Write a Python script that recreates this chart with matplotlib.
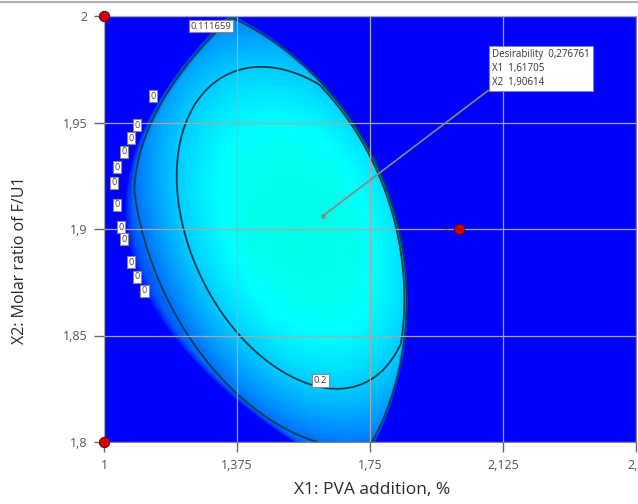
import numpy as np
import matplotlib
matplotlib.use('Agg')
import matplotlib.pyplot as plt
from matplotlib.colors import LinearSegmentedColormap

plt.rcParams['font.family'] = ['Open Sans', 'DejaVu Sans']

# axis ticks (comma decimal, as in the original)
x1_ticks = [1, 1.375, 1.75, 2.125, 2.5]
x1_labels = ['1', '1,375', '1,75', '2,125', '2,5']
x2_ticks = [1.8, 1.85, 1.9, 1.95, 2.0]
x2_labels = ['1,8', '1,85', '1,9', '1,95', '2']

# design points
pts_x1 = [1.0, 1.0, 2.0]
pts_x2 = [2.0, 1.8, 1.9]

# optimum found
opt_x1, opt_x2, opt_d = 1.61705, 1.90614, 0.276761

# desirability model
d_max, d_k, d_m = 0.2768, 0.0768, 1.25
dome_c1, dome_c2 = 1.5537, 1.901
dome_s1, dome_s2 = 0.4237, 0.0704
dome_a, dome_b_up, dome_b_dn, dome_c, dome_e = 1.64, 0.976, 0.95, 0.4, 0.36
left_b0, left_x2c, left_k2, left_k3, left_w = 1.0593, 1.9089, 37.0, -26.8, 0.0226
right_ell = (0.9737, 1.866, 0.8828, 0.15, 0.025)   # cx, cy, ax, ay, edge width

contour_levels = [0.111659, 0.2]
contour_label_txt = ['0.111659', '0.2']
contour_label_x1 = [1.302, 1.610]
contour_label_x2 = [1.9953, 1.8290]

# the "0" labels along the left edge
zero_x1 = [1.138, 1.093, 1.076, 1.0565, 1.0367, 1.028, 1.0367, 1.048, 1.0565, 1.076, 1.093, 1.113]
zero_x2 = [1.9624, 1.9488, 1.9427, 1.9362, 1.9291, 1.9216, 1.9113, 1.9009, 1.8953, 1.8845, 1.8775, 1.8709]


x1 = np.linspace(1, 2.5, 900)
x2 = np.linspace(1.8, 2.0, 700)
X1, X2 = np.meshgrid(x1, x2)

s = (X1 - dome_c1) / dome_s1
t = (X2 - dome_c2) / dome_s2
b = np.where(t > 0, dome_b_up, dome_b_dn)
Q = dome_a * s ** 2 + b * t ** 2 + 2 * dome_c * s * t + dome_e * np.clip(s, 0, None) ** 3
dome = np.clip(d_max - d_k * np.clip(Q, 0, None) ** d_m, 0, None)

dy = X2 - left_x2c
h = X1 - (left_b0 + left_k2 * dy ** 2 + left_k3 * dy ** 3)
L = np.sqrt(np.clip(h / left_w, 0, 1))

cx, cy, ax_, ay, w = right_ell
g2 = 1 - ((X1 - cx) / ax_) ** 2 - ((X2 - cy) / ay) ** 2
R = np.sqrt(np.clip(g2 / w, 0, 1))
D = dome * L * R

cmap = LinearSegmentedColormap.from_list('dx', [(0, '#0000ff'), (0.25, '#00ffff'), (0.5, '#00ff00'),
                                                (0.75, '#ffff00'), (1, '#ff0000')])

fig = plt.figure(figsize=(6.38, 5.04), dpi=100)
ax = fig.add_axes([104 / 638, 62 / 504, 532 / 638, 426 / 504])
ax.imshow(D, extent=[1, 2.5, 1.8, 2.0], origin='lower', aspect='auto', cmap=cmap, vmin=0, vmax=1,
          interpolation='bilinear', zorder=0)
ax.contour(X1, X2, D, levels=contour_levels, colors='#0b3f4f', linewidths=1.3, zorder=2)

ax.set_xlim(1, 2.5)
ax.set_ylim(1.8, 2.0)
ax.set_xticks(x1_ticks)
ax.set_xticklabels(x1_labels)
ax.set_yticks(x2_ticks)
ax.set_yticklabels(x2_labels)
ax.grid(color='#a8a8a8', linewidth=0.9, zorder=1)
ax.set_axisbelow(False)
ax.tick_params(colors='#666666', labelcolor='#555555', labelsize=9, length=7, width=1, pad=5)
for sp in ax.spines.values():
    sp.set_color('#808080')
ax.set_xlabel('X1: PVA addition, %', fontsize=12.5, color='#2a2a2a')
ax.set_ylabel('X2: Molar ratio of F/U1', fontsize=11.5, color='#2a2a2a')
ax.xaxis.set_label_coords(0.504, -0.094)
ax.yaxis.set_label_coords(-0.143, 0.427)

box = dict(boxstyle='square,pad=0.2', fc='white', ec='#888888', lw=0.8)
for txt, px, py in zip(contour_label_txt, contour_label_x1, contour_label_x2):
    ax.text(px, py, txt, fontsize=6.8, color='#444444', ha='center', va='center', bbox=box, zorder=4)
for px, py in zip(zero_x1, zero_x2):
    ax.text(px, py, '0', fontsize=6.5, color='#444444', ha='center', va='center', bbox=box, zorder=4)

# design points
ax.scatter(pts_x1, pts_x2, s=55, color='#d00000', edgecolor='#600000', linewidth=0.7, zorder=5, clip_on=False)
ax.text(1.962, 1.9, '3', fontsize=5.5, color='#202020', ha='center', va='center', zorder=5)

# optimum annotation
ax.plot([opt_x1], [opt_x2], 'o', ms=2.5, color='#888888', zorder=5)
ax.annotate('Desirability  %s\nX1  %s\nX2  %s' % (str(opt_d).replace('.', ','),
                                                    str(opt_x1).replace('.', ','),
                                                    str(opt_x2).replace('.', ',')),
            xy=(opt_x1, opt_x2), xytext=(2.094, 1.9845), fontsize=7, color='#333333',
            ha='left', va='top', linespacing=1.35,
            bbox=dict(boxstyle='square,pad=0.35', fc='white', ec='#888888', lw=0.8),
            arrowprops=dict(arrowstyle='-', color='#888888', lw=1.2, relpos=(0, 0), shrinkA=0, shrinkB=0),
            zorder=6)

fig.add_artist(plt.Line2D([0, 1], [0.997, 0.997], color='#b0b0b0', lw=1.5))
fig.savefig('out.png', dpi=100)
